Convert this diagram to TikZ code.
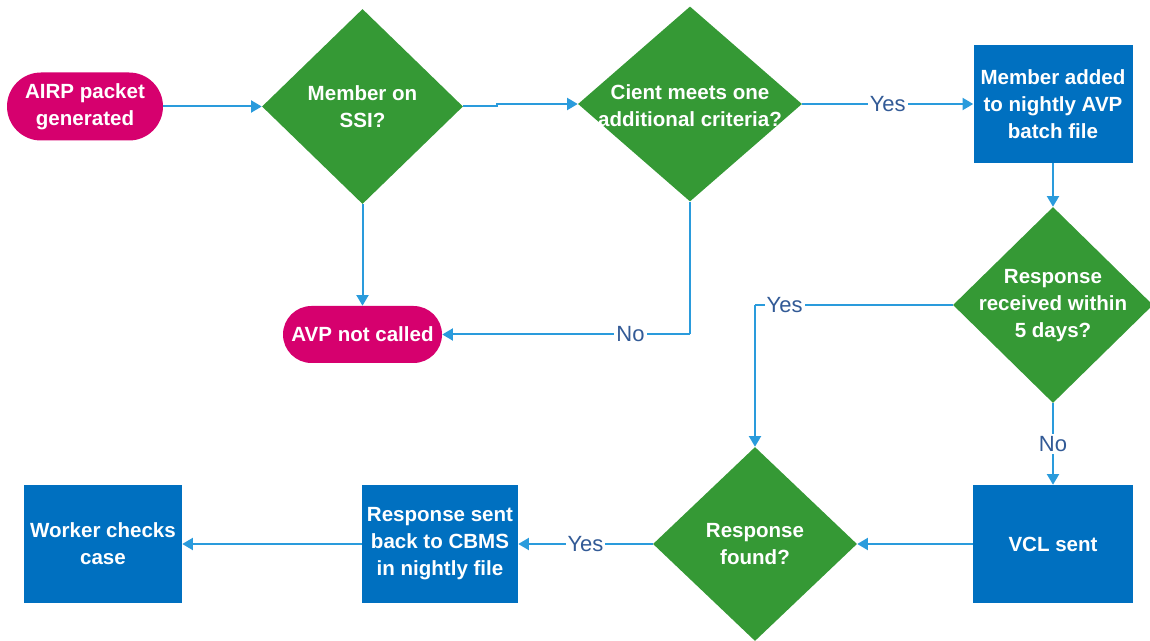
\documentclass[tikz,border=0pt]{standalone}
\usepackage{fontspec}
\setmainfont{Liberation Sans}
\usetikzlibrary{arrows.meta,shapes.geometric}
\definecolor{pinkc}{RGB}{214,0,110}
\definecolor{greenc}{RGB}{53,153,53}
\definecolor{bluec}{RGB}{0,112,192}
\definecolor{linec}{RGB}{42,155,220}
\definecolor{lblc}{RGB}{50,90,150}
\tikzset{
  pill/.style={fill=pinkc, draw=none, rounded corners=#1, inner sep=0pt},
  dia/.style={diamond, fill=greenc, draw=none, inner sep=0pt},
  boxn/.style={rectangle, fill=bluec, draw=none, inner sep=0pt},
  txt/.style={text=white, align=center, font=\fontsize{15.4pt}{20.25pt}\selectfont\bfseries},
  conn/.style={draw=linec, line width=1.5pt, -{Triangle[length=8pt,width=9pt]}},
  plain/.style={draw=linec, line width=1.5pt},
  lbl/.style={fill=white, inner sep=1.5pt, text=lblc, font=\fontsize{16.5pt}{19pt}\selectfont}
}
\begin{document}
\begin{tikzpicture}[x=0.75pt,y=-0.75pt]
\useasboundingbox (0,0) rectangle (1150,641);
% nodes
\node[pill=25.5pt, minimum width=117pt, minimum height=51pt] (airp) at (85,106.5) {};
\node[txt] (airpT) at (airp) {AIRP packet\\generated};
\node[dia, minimum width=150.75pt, minimum height=146.25pt] (d1) at (362.5,106.5) {};
\node[txt] (d1T) at (362.5,107) {Member on\\SSI?};
\node[dia, minimum width=168pt, minimum height=146.25pt] (d2) at (690,104) {};
\node[txt] (d2T) at (690,106) {Cient meets one\\additional criteria?};
\node[boxn, minimum width=119.25pt, minimum height=88.5pt] (b1) at (1053,104) {};
\node[txt] (b1T) at (b1) {Member added\\to nightly AVP\\batch file};
\node[dia, minimum width=150pt, minimum height=147pt] (d3) at (1053,305) {};
\node[txt] (d3T) at (1053,306) {Response\\received within\\5 days?};
\node[pill=21.4pt, minimum width=119.25pt, minimum height=42.75pt] (avp) at (362.5,334.5) {};
\node[txt] (avpT) at (avp) {AVP not called};
\node[dia, minimum width=153pt, minimum height=145.5pt] (d4) at (755,544) {};
\node[txt] (d4T) at (755,544) {Response\\found?};
\node[boxn, minimum width=120pt, minimum height=88.5pt] (vcl) at (1053,544) {};
\node[txt] (vclT) at (vcl) {VCL sent};
\node[boxn, minimum width=117pt, minimum height=87.75pt] (resp) at (440,544) {};
\node[txt] (respT) at (resp) {Response sent\\back to CBMS\\in nightly file};
\node[boxn, minimum width=118.5pt, minimum height=87.75pt] (wrk) at (103,544) {};
\node[txt] (wrkT) at (wrk) {Worker checks\\case};
% coordinates
\coordinate (j1) at (497,106.5);
\coordinate (c2) at (690,334.5);
\coordinate (c3) at (755,305);
% connectors
\draw[conn] (airp.east) -- (d1.west);
\draw[conn] (d1.east) -- (j1) |- (d2.west);
\draw[conn] (d2.east) -- node[lbl]{Yes} (b1.west);
\draw[conn] (d1.south) -- (avp.north);
\draw[plain] (d2.south) -- (c2);
\draw[conn] (c2) -- node[lbl,pos=0.24]{No} (avp.east);
\draw[conn] (b1.south) -- (d3.north);
\draw[plain] (d3.west) -- node[lbl,pos=0.85]{Yes} (c3);
\draw[conn] (c3) -- (d4.north);
\draw[conn] (d3.south) -- node[lbl]{No} (vcl.north);
\draw[conn] (vcl.west) -- (d4.east);
\draw[conn] (d4.west) -- node[lbl]{Yes} (resp.east);
\draw[conn] (resp.west) -- (wrk.east);
\end{tikzpicture}
\end{document}
